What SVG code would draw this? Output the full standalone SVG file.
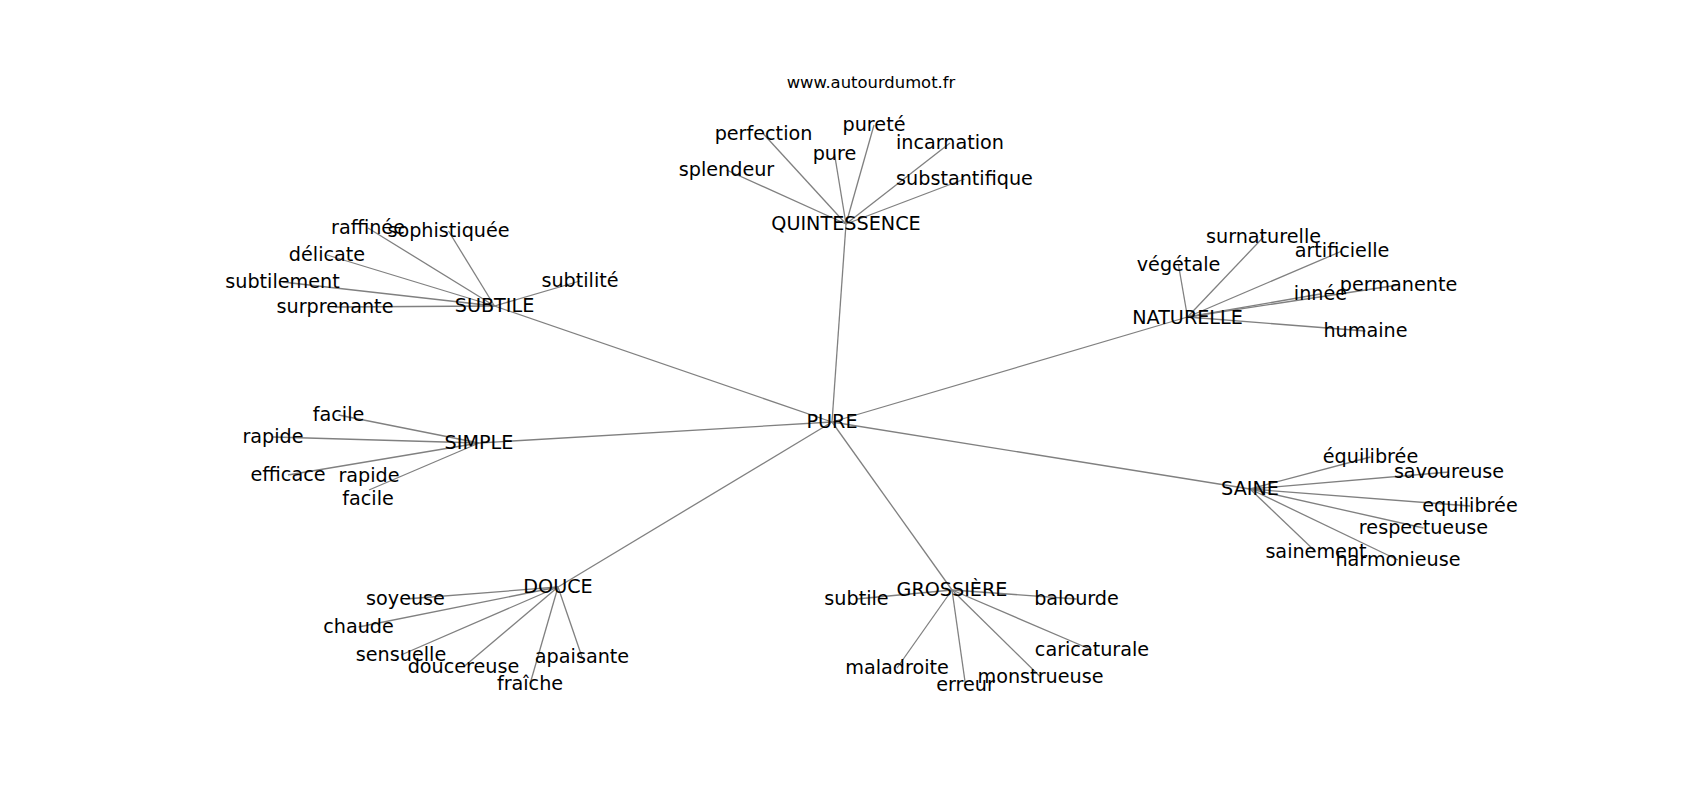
<svg xmlns="http://www.w3.org/2000/svg" width="1700" height="800" viewBox="0 0 1700 800">
<style>
.e{stroke:#808080;stroke-width:1.3;fill:none}
text{font-family:"DejaVu Sans","Liberation Sans",sans-serif;font-size:19.2px;fill:#000;text-anchor:middle}
.t{font-size:16.4px}
</style>
<rect width="1700" height="800" fill="#fff"/>
<text class="t" x="871" y="88">www.autourdumot.fr</text>
<g id="edges">
<line class="e" x1="832" y1="422" x2="846" y2="224"/>
<line class="e" x1="832" y1="422" x2="494.5" y2="306"/>
<line class="e" x1="832" y1="422" x2="1187.5" y2="317"/>
<line class="e" x1="832" y1="422" x2="479" y2="443"/>
<line class="e" x1="832" y1="422" x2="1250" y2="489"/>
<line class="e" x1="832" y1="422" x2="558" y2="587"/>
<line class="e" x1="832" y1="422" x2="952" y2="590"/>
<line class="e" x1="846" y1="224" x2="763.5" y2="134"/>
<line class="e" x1="846" y1="224" x2="874" y2="125"/>
<line class="e" x1="846" y1="224" x2="834.5" y2="154"/>
<line class="e" x1="846" y1="224" x2="950" y2="143"/>
<line class="e" x1="846" y1="224" x2="726.5" y2="170"/>
<line class="e" x1="846" y1="224" x2="964.5" y2="179"/>
<line class="e" x1="494.5" y1="306" x2="368" y2="228"/>
<line class="e" x1="494.5" y1="306" x2="448.5" y2="231"/>
<line class="e" x1="494.5" y1="306" x2="327" y2="255"/>
<line class="e" x1="494.5" y1="306" x2="282.5" y2="282"/>
<line class="e" x1="494.5" y1="306" x2="335" y2="307"/>
<line class="e" x1="494.5" y1="306" x2="580" y2="281"/>
<line class="e" x1="1187.5" y1="317" x2="1263.5" y2="237"/>
<line class="e" x1="1187.5" y1="317" x2="1342" y2="251"/>
<line class="e" x1="1187.5" y1="317" x2="1178.5" y2="265"/>
<line class="e" x1="1187.5" y1="317" x2="1398.5" y2="285"/>
<line class="e" x1="1187.5" y1="317" x2="1320.5" y2="294"/>
<line class="e" x1="1187.5" y1="317" x2="1365.5" y2="331"/>
<line class="e" x1="479" y1="443" x2="338.5" y2="415"/>
<line class="e" x1="479" y1="443" x2="273" y2="437"/>
<line class="e" x1="479" y1="443" x2="288" y2="475"/>
<line class="e" x1="479" y1="443" x2="369" y2="490"/>
<line class="e" x1="1250" y1="489" x2="1370.5" y2="457"/>
<line class="e" x1="1250" y1="489" x2="1449" y2="472"/>
<line class="e" x1="1250" y1="489" x2="1470" y2="506"/>
<line class="e" x1="1250" y1="489" x2="1423.5" y2="528"/>
<line class="e" x1="1250" y1="489" x2="1316" y2="552"/>
<line class="e" x1="1250" y1="489" x2="1398" y2="560"/>
<line class="e" x1="558" y1="587" x2="405.5" y2="599"/>
<line class="e" x1="558" y1="587" x2="358.5" y2="627"/>
<line class="e" x1="558" y1="587" x2="401" y2="655"/>
<line class="e" x1="558" y1="587" x2="463.5" y2="667"/>
<line class="e" x1="558" y1="587" x2="530" y2="684"/>
<line class="e" x1="558" y1="587" x2="582" y2="657"/>
<line class="e" x1="952" y1="590" x2="856.5" y2="599"/>
<line class="e" x1="952" y1="590" x2="1076.5" y2="599"/>
<line class="e" x1="952" y1="590" x2="897" y2="668"/>
<line class="e" x1="952" y1="590" x2="965.5" y2="685"/>
<line class="e" x1="952" y1="590" x2="1040.5" y2="677"/>
<line class="e" x1="952" y1="590" x2="1092" y2="650"/>
</g>
<g id="n-pure"><text x="832" y="428">PURE</text></g>
<g id="n-quintessence"><text x="846" y="230">QUINTESSENCE</text></g>
<g id="n-perfection"><text x="763.5" y="140">perfection</text></g>
<g id="n-purete"><text x="874" y="131">pureté</text></g>
<g id="n-pure2"><text x="834.5" y="160">pure</text></g>
<g id="n-incarnation"><text x="950" y="149">incarnation</text></g>
<g id="n-splendeur"><text x="726.5" y="176">splendeur</text></g>
<g id="n-substantifique"><text x="964.5" y="185">substantifique</text></g>
<g id="n-subtile"><text x="494.5" y="312">SUBTILE</text></g>
<g id="n-raffinee"><text x="368" y="234">raffinée</text></g>
<g id="n-sophistiquee"><text x="448.5" y="237">sophistiquée</text></g>
<g id="n-delicate"><text x="327" y="261">délicate</text></g>
<g id="n-subtilement"><text x="282.5" y="288">subtilement</text></g>
<g id="n-surprenante"><text x="335" y="313">surprenante</text></g>
<g id="n-subtilite"><text x="580" y="287">subtilité</text></g>
<g id="n-naturelle"><text x="1187.5" y="324">NATURELLE</text></g>
<g id="n-surnaturelle"><text x="1263.5" y="243">surnaturelle</text></g>
<g id="n-artificielle"><text x="1342" y="257">artificielle</text></g>
<g id="n-vegetale"><text x="1178.5" y="271">végétale</text></g>
<g id="n-permanente"><text x="1398.5" y="291">permanente</text></g>
<g id="n-innee"><text x="1320.5" y="300">innée</text></g>
<g id="n-humaine"><text x="1365.5" y="337">humaine</text></g>
<g id="n-simple"><text x="479" y="449">SIMPLE</text></g>
<g id="n-facile"><text x="338.5" y="421">facile</text></g>
<g id="n-rapide"><text x="273" y="443">rapide</text></g>
<g id="n-efficace"><text x="288" y="481">efficace</text></g>
<g id="n-rapide2"><text x="369" y="482">rapide</text></g>
<g id="n-facile2"><text x="368" y="505">facile</text></g>
<g id="n-saine"><text x="1250" y="495">SAINE</text></g>
<g id="n-equilibree"><text x="1370.5" y="463">équilibrée</text></g>
<g id="n-savoureuse"><text x="1449" y="478">savoureuse</text></g>
<g id="n-equilibree2"><text x="1470" y="512">equilibrée</text></g>
<g id="n-respectueuse"><text x="1423.5" y="534">respectueuse</text></g>
<g id="n-sainement"><text x="1316" y="558">sainement</text></g>
<g id="n-harmonieuse"><text x="1398" y="566">harmonieuse</text></g>
<g id="n-douce"><text x="558" y="593">DOUCE</text></g>
<g id="n-soyeuse"><text x="405.5" y="605">soyeuse</text></g>
<g id="n-chaude"><text x="358.5" y="633">chaude</text></g>
<g id="n-sensuelle"><text x="401" y="661">sensuelle</text></g>
<g id="n-doucereuse"><text x="463.5" y="673">doucereuse</text></g>
<g id="n-fraiche"><text x="530" y="690">fraîche</text></g>
<g id="n-apaisante"><text x="582" y="663">apaisante</text></g>
<g id="n-grossiere"><text x="952" y="596">GROSSIÈRE</text></g>
<g id="n-subtile2"><text x="856.5" y="605">subtile</text></g>
<g id="n-balourde"><text x="1076.5" y="605">balourde</text></g>
<g id="n-maladroite"><text x="897" y="674">maladroite</text></g>
<g id="n-erreur"><text x="965.5" y="691">erreur</text></g>
<g id="n-monstrueuse"><text x="1040.5" y="683">monstrueuse</text></g>
<g id="n-caricaturale"><text x="1092" y="656">caricaturale</text></g>
</svg>
